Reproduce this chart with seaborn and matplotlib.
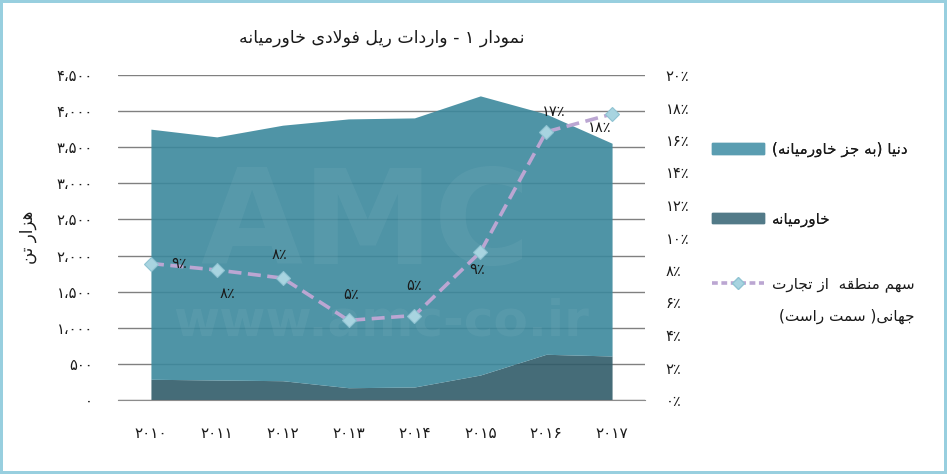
import re
import unicodedata
import matplotlib
matplotlib.use("Agg")
import matplotlib.pyplot as plt
import seaborn as sns
import pandas as pd
import numpy as np
from matplotlib.lines import Line2D
from matplotlib.patches import Patch

# ---- data ----
years = [2010, 2011, 2012, 2013, 2014, 2015, 2016, 2017]
middle_east = [287, 277, 267, 170, 180, 346, 633, 609]            # هزار تن
world_ex_me = [3463, 3366, 3538, 3722, 3726, 3865, 3327, 2946]     # هزار تن
share = [8.4, 8.0, 7.5, 4.9, 5.2, 9.1, 16.5, 17.6]                 # ٪
share_labels = ["۹٪", "۸٪", "۸٪", "۵٪", "۵٪", "۹٪", "۱۷٪", "۱۸٪"]

title = "نمودار ۱ - واردات ریل فولادی خاورمیانه"
ylabel = "هزار تن"
legend_world = "دنیا (به جز خاورمیانه)"
legend_me = "خاورمیانه"
legend_share = ["سهم منطقه  از تجارت", "جهانی( سمت راست)"]

# ---- minimal Persian shaping (matplotlib has no bidi / joining) ----
FORMS = {}
for cp in range(0xFB50, 0xFF00):
    dec = unicodedata.decomposition(chr(cp)).split()
    if len(dec) == 2 and dec[0] in ("<isolated>", "<final>", "<initial>", "<medial>"):
        FORMS.setdefault(chr(int(dec[1], 16)), {}).setdefault(dec[0][1:-1], chr(cp))
LA = {"isolated": "\ufefb", "final": "\ufefc"}


def fa(text):
    chars, i = [], 0
    while i < len(text):
        if text[i] == "ل" and text[i + 1:i + 2] == "ا":
            chars.append("لا")
            i += 2
        else:
            chars.append(text[i])
            i += 1
    forms = lambda c: LA if c == "لا" else FORMS.get(c, {})
    out = []
    for k, c in enumerate(chars):
        f = forms(c)
        if not f:
            out.append(c)
            continue
        prev = forms(chars[k - 1]) if k > 0 else {}
        nxt = forms(chars[k + 1]) if k + 1 < len(chars) else {}
        a = ("initial" in prev or "medial" in prev) and "final" in f
        b = "initial" in f and ("final" in nxt or "medial" in nxt)
        tag = "medial" if a and b else "final" if a else "initial" if b else "isolated"
        out.append(f.get(tag, f.get("isolated", c)))
    s = "".join(out)[::-1]
    s = re.sub(r"[0-9۰-۹]+", lambda m: m.group(0)[::-1], s)
    return s.translate(str.maketrans("()", ")("))


FA_DIGITS = str.maketrans("0123456789", "۰۱۲۳۴۵۶۷۸۹")


def fa_num(v):
    return f"{int(round(v)):,}".replace(",", "،").translate(FA_DIGITS)


sns.set_style("white")
plt.rcParams["font.family"] = ["DejaVu Sans"]

# areas are drawn a little transparent so the grid shows through darker
c_world, c_me = "#3c889c", "#315c69"
c_world_leg, c_me_leg = "#5a9db1", "#527a88"
c_line, c_marker = "#bba6d2", "#a8d4e0"
txt = "#1a1a1a"

df = pd.DataFrame({"pos": np.arange(len(years)), "share": share})

fig = plt.figure(figsize=(9.47, 4.74), dpi=100, linewidth=3, edgecolor="#98cfdf")
ax = fig.add_axes([118 / 947, 74 / 474, 527 / 947, 325 / 474])

ax.stackplot(df["pos"], middle_east, world_ex_me, colors=[c_me, c_world],
             linewidth=0, alpha=0.9)
ax.set_xlim(-0.5, len(years) - 0.5)
ax.set_ylim(0, 4500)
ax.set_yticks(range(0, 4501, 500))
ax.set_yticklabels([fa_num(v) for v in range(0, 4501, 500)])
ax.set_xticks(df["pos"])
ax.set_xticklabels([str(y).translate(FA_DIGITS) for y in years])
ax.set_xticks(np.arange(-0.5, len(years), 1), minor=True)
ax.tick_params(axis="x", which="major", length=0, pad=19, labelsize=11, labelcolor=txt)
ax.tick_params(axis="x", which="minor", length=7, color="#8c8c8c", width=1)
ax.tick_params(axis="y", length=0, pad=18, labelsize=10.5, labelcolor=txt)
ax.yaxis.grid(True, color="#808080", linewidth=1)
ax.set_axisbelow(True)
for s in ["left", "right", "top"]:
    ax.spines[s].set_visible(False)
ax.spines["bottom"].set_color("#8c8c8c")
ax.spines["bottom"].set_zorder(3)
ax.set_ylabel(fa(ylabel), fontsize=12, labelpad=14, color=txt)
ax.set_title(fa(title), fontsize=12.5, pad=23, color=txt)

# faint watermark
ax.text(0.47, 0.53, "AMC", transform=ax.transAxes, ha="center", va="center",
        fontsize=95, fontweight="bold", color="white", alpha=0.05)
ax.text(0.5, 0.24, "www.amc-co.ir", transform=ax.transAxes, ha="center", va="center",
        fontsize=36, fontweight="bold", color="white", alpha=0.05)

ax2 = ax.twinx()
sns.lineplot(data=df, x="pos", y="share", ax=ax2, color=c_line, linewidth=2.6,
             linestyle=(0, (3.6, 1.8)), marker="D", markersize=7,
             markerfacecolor=c_marker, markeredgecolor="#8fc3d2", markeredgewidth=0.8)
ax2.set_ylim(0, 20)
ax2.set_yticks(range(0, 21, 2))
ax2.set_yticklabels([str(v).translate(FA_DIGITS) + "٪" for v in range(0, 21, 2)])
ax2.tick_params(axis="y", length=0, pad=15, labelsize=10.5, labelcolor=txt)
ax2.set_xlabel("")
ax2.set_ylabel("")
ax2.set_xlim(-0.5, len(years) - 0.5)
for s in ax2.spines.values():
    s.set_visible(False)

offsets = [(28, 0), (11, -23), (-3, 24), (2, 26), (0, 30), (-3, -17), (8, 20), (-12, -14)]
for (x, y, lab), off in zip(zip(df["pos"], share, share_labels), offsets):
    ax2.annotate(lab, (x, y), xytext=off, textcoords="offset pixels",
                 ha="center", va="center", fontsize=10.5, color=txt)

h_world = Patch(color=c_world_leg)
h_me = Patch(color=c_me_leg)
leg1 = fig.legend([h_world, h_me], [fa(legend_world), fa(legend_me)],
                  loc="upper left", bbox_to_anchor=(712 / 947, 1 - 142 / 474),
                  frameon=False, borderpad=0, borderaxespad=0, fontsize=11,
                  labelcolor=txt, handlelength=3.4, handleheight=0.7,
                  handletextpad=0.5, labelspacing=3.55)
h_line = Line2D([], [], color=c_line, linewidth=2.6, linestyle=(0, (1.6, 1.0)),
                marker="D", markersize=6, markerfacecolor=c_marker, markeredgecolor="#8fc3d2")
leg2 = fig.legend([h_line], [fa(legend_share[0])],
                  loc="upper left", bbox_to_anchor=(712 / 947, 1 - 276 / 474),
                  frameon=False, borderpad=0, borderaxespad=0, fontsize=11,
                  labelcolor=txt, handlelength=3.4, handletextpad=0.5)
fig.add_artist(leg1)

fig.canvas.draw()
bb = leg2.get_texts()[0].get_window_extent()
fig.text(bb.x1 / fig.bbox.width, bb.y0 / fig.bbox.height - 0.052, fa(legend_share[1]),
         ha="right", va="center", fontsize=11, color=txt)

fig.savefig("out.png", dpi=100, edgecolor=fig.get_edgecolor())
